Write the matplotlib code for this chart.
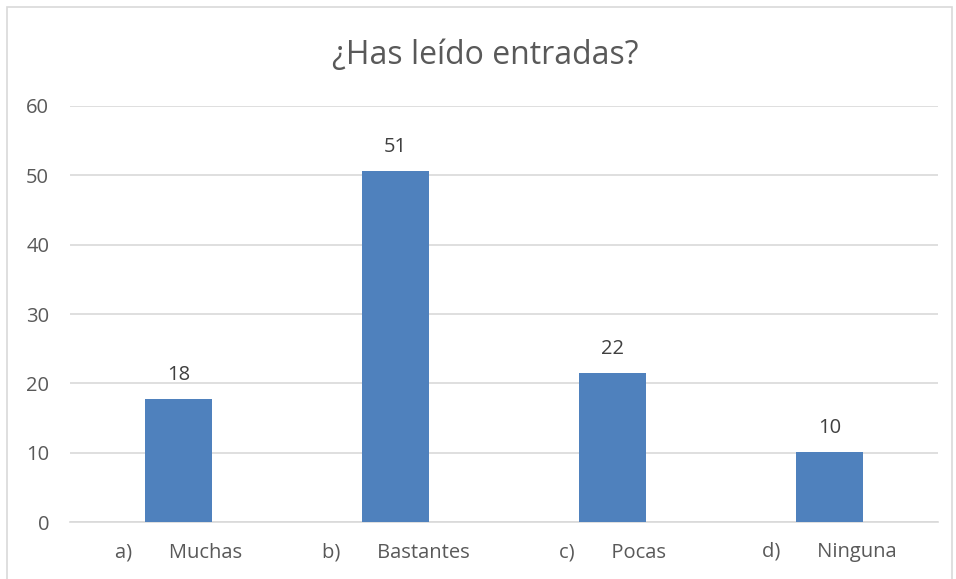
import matplotlib
matplotlib.use("Agg")
import matplotlib.pyplot as plt
from matplotlib.patches import Rectangle

categories = ["a)       Muchas", "b)       Bastantes", "c)       Pocas", "d)       Ninguna"]
values = [17.72, 50.63, 21.52, 10.13]
yticks = [0, 10, 20, 30, 40, 50, 60]
title = "¿Has leído entradas?"

plt.rcParams['font.family'] = ['Open Sans', 'DejaVu Sans']
txt = "#595959"
fig = plt.figure(figsize=(9.56, 5.79), dpi=100)
fig.patches.append(Rectangle((7/956, -0.1), (952-7)/956, 1.1 - 7/579, transform=fig.transFigure,
                             fill=False, edgecolor="#D9D9D9", linewidth=1.2))
ax = fig.add_axes([70/956, 57/579, 868/956, 416/579])
x = range(len(categories))
bars = ax.bar(x, values, width=0.31, color="#4F81BD", zorder=3)
for b, v in zip(bars, values):
    ax.annotate(f"{round(v)}", (b.get_x() + b.get_width()/2, v), xytext=(0, 10),
                textcoords="offset points", ha="center", va="bottom", fontsize=14.5, color="#404040")
ax.set_xlim(-0.5, 3.5)
ax.set_ylim(0, 60)
ax.set_yticks(yticks)
ax.set_xticks(list(x))
ax.set_xticklabels(categories)
ax.tick_params(axis="both", length=0, labelsize=14.5, colors=txt)
ax.tick_params(axis="y", pad=15)
ax.tick_params(axis="x", pad=14.5)
ax.grid(axis="y", color="#D9D9D9", linewidth=1.2, zorder=0)
for s in ["top", "right", "left"]:
    ax.spines[s].set_visible(False)
ax.spines["bottom"].set_color("#D9D9D9")
ax.spines["bottom"].set_linewidth(1.2)
fig.text(485/956, 1 - 56/579, title, ha="center", va="center", fontsize=23, color=txt)
fig.savefig("out.png", dpi=100)
